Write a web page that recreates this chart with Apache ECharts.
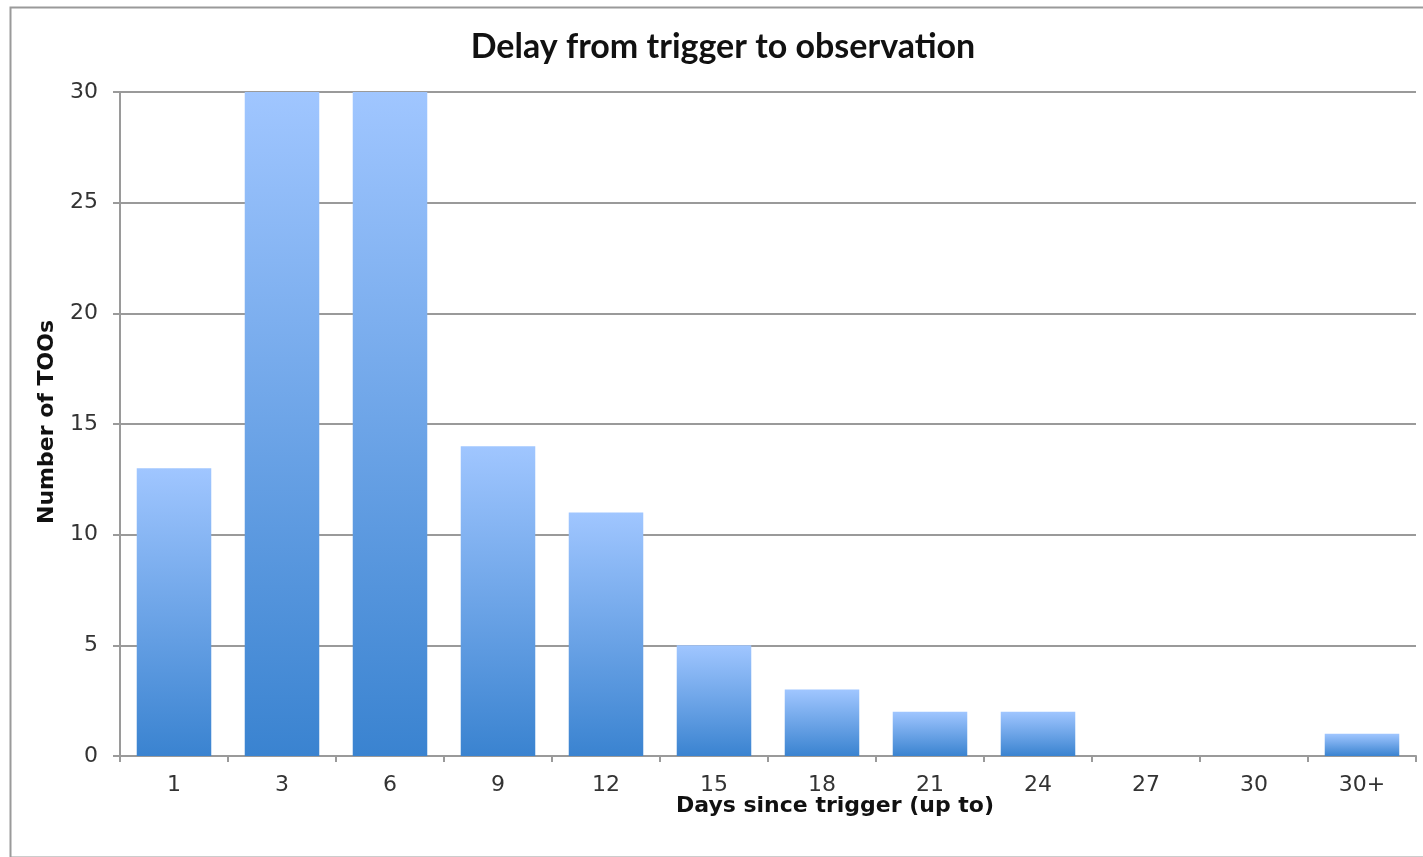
<!DOCTYPE html>
<html>
<head>
<meta charset="utf-8">
<script src="https://cdn.jsdelivr.net/npm/echarts@6/dist/echarts.min.js"></script>
<style>
  html, body { margin: 0; padding: 0; background: #fff; }
  #chart { width: 1423px; height: 857px; }
</style>
</head>
<body>
<div id="chart"></div>
<script>
// Delay categories (days since trigger, upper bound of each bin)
const categories = ['1', '3', '6', '9', '12', '15', '18', '21', '24', '27', '30', '30+'];
// Number of TOOs observed in each bin
const tooCounts = [13, 30, 30, 14, 11, 5, 3, 2, 2, 0, 0, 1];
// Value-axis settings
const yMin = 0;
const yMax = 30;
const yStep = 5;

const chart = echarts.init(document.getElementById('chart'), null, { renderer: 'canvas' });

const labelFont = '"DejaVu Sans", Verdana, sans-serif';
const gridColor = '#9a9a9a';

const option = {
  backgroundColor: '#ffffff',
  animation: false,
  title: {
    text: 'Delay from trigger to observation',
    left: 718,
    top: 25,
    textAlign: 'center',
    textStyle: {
      fontFamily: 'Lato, "Open Sans", sans-serif',
      fontWeight: 'bold',
      fontSize: 34,
      color: '#111'
    }
  },
  grid: {
    left: 120,
    right: 7,
    top: 92,
    bottom: 101,
    containLabel: false,
    outerBoundsMode: 'none'
  },
  xAxis: {
    type: 'category',
    data: categories,
    boundaryGap: true,
    axisLine: { show: true, lineStyle: { color: gridColor, width: 2 } },
    axisTick: { show: true, length: 6, alignWithLabel: false, lineStyle: { color: gridColor, width: 2 } },
    axisLabel: {
      margin: 18,
      fontFamily: labelFont,
      fontSize: 22,
      color: '#333'
    },
    splitLine: { show: false }
  },
  yAxis: {
    type: 'value',
    min: yMin,
    max: yMax,
    interval: yStep,
    axisLine: { show: true, lineStyle: { color: gridColor, width: 2 } },
    axisTick: { show: true, length: 7, lineStyle: { color: gridColor, width: 2 } },
    axisLabel: {
      margin: 22,
      fontFamily: labelFont,
      fontSize: 22,
      color: '#333'
    },
    splitLine: { show: true, lineStyle: { color: gridColor, width: 2 } }
  },
  series: [{
    type: 'bar',
    data: tooCounts,
    barCategoryGap: '31%',
    itemStyle: {
      // each bar fades from pale blue at its top to deeper blue at the base
      color: new echarts.graphic.LinearGradient(0, 0, 0, 1, [
        { offset: 0, color: '#a0c6ff' },
        { offset: 1, color: '#3a83d0' }
      ])
    }
  }],
  graphic: [
    {
      type: 'rect',
      left: 8,
      top: 5,
      shape: { width: 1440, height: 850 },
      style: { fill: 'none', stroke: '#9a9a9a', lineWidth: 2 },
      silent: true
    },
    {
      type: 'text',
      x: 835,
      y: 806,
      style: {
        text: 'Days since trigger (up to)',
        align: 'center',
        verticalAlign: 'middle',
        font: 'bold 22px "DejaVu Sans", Verdana, sans-serif',
        fill: '#111'
      }
    },
    {
      type: 'text',
      x: 47,
      y: 422,
      rotation: Math.PI / 2,
      style: {
        text: 'Number of TOOs',
        align: 'center',
        verticalAlign: 'middle',
        font: 'bold 22px "DejaVu Sans", Verdana, sans-serif',
        fill: '#111'
      }
    }
  ]
};

chart.setOption(option);
</script>
</body>
</html>
